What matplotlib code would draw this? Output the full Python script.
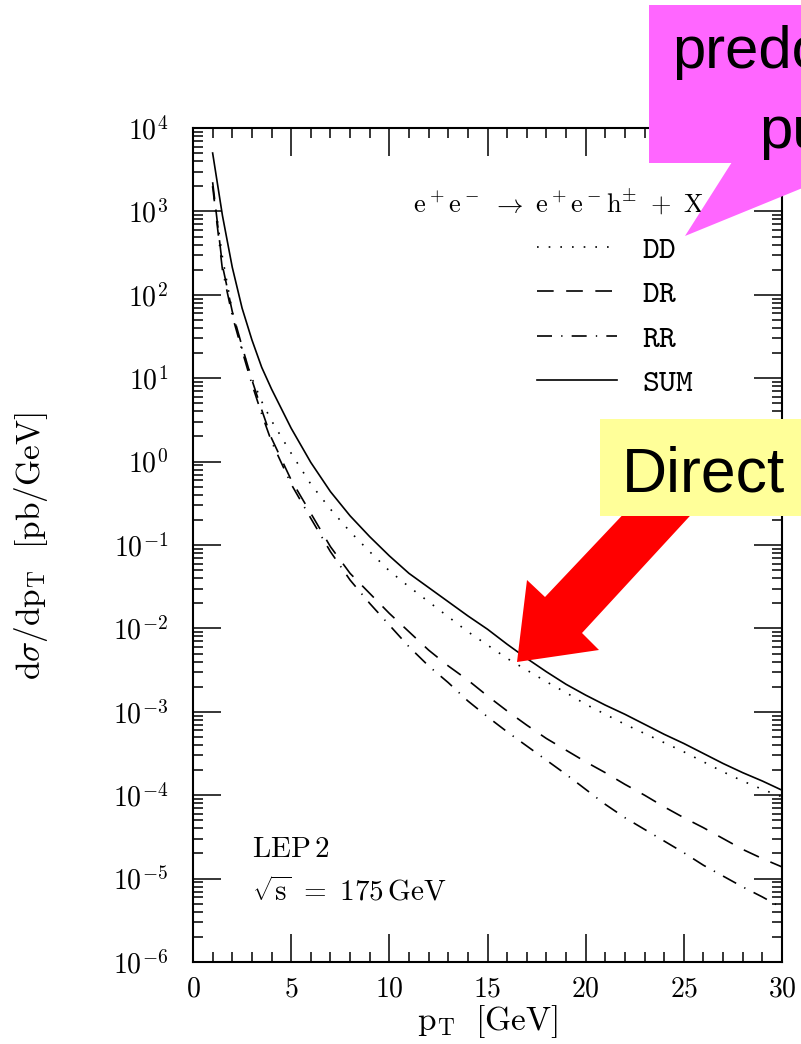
import matplotlib
matplotlib.use("Agg")
import matplotlib.pyplot as plt
import numpy as np
from matplotlib.patches import Polygon
from matplotlib.ticker import FixedLocator, FuncFormatter, NullFormatter

# p_T grid [GeV] and log10(dsigma/dpT [pb/GeV])
pt = [1.0, 1.5, 2.0, 2.5, 3.0, 3.5, 4.0, 5.0, 6.0, 7.0, 8.0, 9.0, 10.0, 11.0, 12.0,
      13.0, 14.0, 15.0, 16.0, 17.0, 18.0, 19.0, 20.0, 21.0, 22.0, 23.0, 24.0,
      25.0, 26.0, 27.0, 28.0, 29.0, 30.0]
dd_log = [3.30, 2.45, 1.80, 1.35, 1.00, 0.72, 0.49, 0.10, -0.27, -0.57, -0.84, -1.08,
          -1.31, -1.50, -1.68, -1.86, -2.04, -2.20, -2.36, -2.50, -2.64, -2.77, -2.91,
          -3.03, -3.15, -3.26, -3.37, -3.48, -3.60, -3.72, -3.83, -3.93, -4.02]
dr_log = [3.35, 2.35, 1.80, 1.38, 0.98, 0.62, 0.28, -0.22, -0.62, -1.02, -1.34, -1.58,
          -1.82, -2.04, -2.26, -2.45, -2.62, -2.81, -2.99, -3.16, -3.32, -3.46, -3.60,
          -3.73, -3.87, -4.00, -4.14, -4.27, -4.39, -4.52, -4.65, -4.76, -4.86]
rr_log = [3.30, 2.30, 1.75, 1.33, 0.93, 0.57, 0.24, -0.27, -0.68, -1.08, -1.42, -1.70,
          -1.96, -2.22, -2.45, -2.65, -2.87, -3.06, -3.24, -3.41, -3.58, -3.75, -3.93,
          -4.11, -4.27, -4.41, -4.55, -4.69, -4.84, -4.97, -5.10, -5.22, -5.35]
sum_log = [3.70, 2.95, 2.33, 1.84, 1.46, 1.13, 0.87, 0.40, -0.01, -0.36, -0.65, -0.90,
           -1.13, -1.34, -1.51, -1.68, -1.85, -2.01, -2.19, -2.36, -2.52, -2.67, -2.80,
           -2.92, -3.03, -3.15, -3.27, -3.38, -3.50, -3.62, -3.73, -3.83, -3.94]

labels = ["DD", "DR", "RR", "SUM"]
styles = [(0, (1, 6)), (0, (10, 7.5)), (0, (9, 5.5, 0.8, 5.5)), "-"]

x_ticks = [0, 5, 10, 15, 20, 25, 30]
y_decades = [-6, -5, -4, -3, -2, -1, 0, 1, 2, 3, 4]

W, H = 801, 1044
plt.rcParams["mathtext.fontset"] = "cm"


def fx(x):
    return x / W


def fy(y):
    return 1 - y / H


def main():
    fig = plt.figure(figsize=(W / 100, H / 100), dpi=100)
    ax = fig.add_axes([fx(193), fy(962), (782 - 193) / W, (962 - 128) / H])

    for vals, lab, ls in zip([dd_log, dr_log, rr_log, sum_log], labels, styles):
        ax.semilogy(pt, 10.0 ** np.array(vals), color="black", lw=1.2,
                    linestyle=ls, label=rf"$\mathtt{{{lab}}}$")

    ax.set_xlim(0, 30)
    ax.set_ylim(1e-6, 1e4)

    # ticks on all sides, pointing in
    ax.xaxis.set_major_locator(FixedLocator(x_ticks))
    ax.xaxis.set_minor_locator(FixedLocator(np.arange(0, 31, 1)))
    ax.yaxis.set_major_locator(FixedLocator([10.0 ** d for d in y_decades]))
    ax.yaxis.set_minor_locator(FixedLocator(
        [m * 10.0 ** d for d in y_decades[:-1] for m in range(2, 10)]))
    ax.yaxis.set_minor_formatter(NullFormatter())
    ax.xaxis.set_major_formatter(FuncFormatter(lambda v, _: rf"${int(v)}$"))
    ax.yaxis.set_major_formatter(
        FuncFormatter(lambda v, _: rf"$10^{{{int(round(np.log10(v)))}}}$"))
    ax.tick_params(which="both", direction="in", top=True, right=True,
                   width=1.1, colors="black")
    ax.tick_params(which="major", length=20)
    ax.tick_params(which="minor", length=7)
    ax.tick_params(axis="x", which="major", labelsize=20, pad=9)
    ax.tick_params(axis="y", which="major", labelsize=20, pad=18)
    for sp in ax.spines.values():
        sp.set_linewidth(1.5)

    ax.set_xlabel(r"$\mathrm{p_T\ \ [GeV]}$", fontsize=24, va="top")
    ax.xaxis.set_label_coords(0.5, -0.049)
    ax.set_ylabel(r"$\mathrm{d}\sigma/\mathrm{dp_T\ \ [pb/GeV]}$", fontsize=24)
    ax.yaxis.set_label_coords(-0.243, 0.499)

    ax.text(0.3735, 0.910, r"$\mathrm{e^+e^-\ \rightarrow\ e^+e^-h^{\pm}\ +\ X}$",
            transform=ax.transAxes, fontsize=19, va="center", ha="left")
    ax.legend(loc="upper left", bbox_to_anchor=(0.584, 0.873), frameon=False,
              fontsize=23, handlelength=2.5, handletextpad=0.78, labelspacing=0.42,
              borderpad=0, borderaxespad=0)

    ax.text(0.1, 0.136, r"$\mathrm{LEP\,2}$", transform=ax.transAxes,
            fontsize=21, va="center")
    ax.text(0.1, 0.084, r"$\sqrt{\mathrm{s}}\ =\ 175\,\mathrm{GeV}$",
            transform=ax.transAxes, fontsize=21, va="center")

    # slide annotations on top of the scanned plot
    def poly(pts, **kw):
        fig.add_artist(Polygon([(fx(x), fy(y)) for x, y in pts], closed=True,
                               transform=fig.transFigure, **kw))

    poly([(649, 5), (805, 5), (805, 163), (649, 163)], fc="#ff66ff", ec="none", zorder=5)
    poly([(732, 162), (685, 236), (805, 187), (805, 162)], fc="#ff66ff", ec="none",
         zorder=5)
    fig.text(fx(672), fy(68), "predo", fontsize=43, family="Liberation Sans",
             va="baseline", ha="left", zorder=6)
    fig.text(fx(759), fy(148), "pu", fontsize=43, family="Liberation Sans",
             va="baseline", ha="left", zorder=6)

    poly([(517, 662), (527, 580), (545, 597), (632, 505), (700, 505), (582, 633),
          (599, 650)], fc="#ff0000", ec="none", zorder=5)
    poly([(600, 419), (805, 419), (805, 516), (600, 516)], fc="#ffff99", ec="none",
         zorder=6)
    fig.text(fx(622), fy(492), "Direct", fontsize=45, family="Liberation Sans",
             va="baseline", ha="left", zorder=7)

    fig.savefig("out.png", dpi=100)


if __name__ == "__main__":
    main()
